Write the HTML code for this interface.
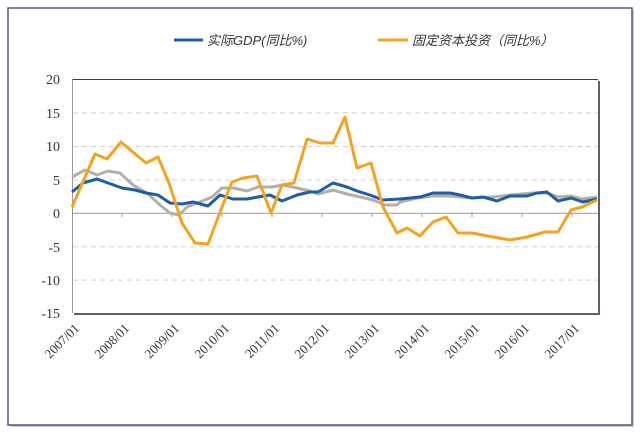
<!DOCTYPE html>
<html><head><meta charset="utf-8"><style>
body{margin:0;background:#fff;width:640px;height:432px;overflow:hidden}
</style></head><body>
<svg width="640" height="432" xmlns="http://www.w3.org/2000/svg">
<rect x="0" y="0" width="640" height="432" fill="#fff"/>
<rect x="10" y="10" width="624" height="417" fill="#c9ccd4"/>
<rect x="8" y="8" width="624" height="417" fill="#fff" stroke="#4d5a78" stroke-width="1.5"/>
<!-- legend -->
<line x1="174" y1="40" x2="203" y2="40" stroke="#1F5DA8" stroke-width="3"/>
<text x="207" y="45" font-family="Liberation Sans, Noto Sans CJK SC, sans-serif" font-size="13" font-style="italic" fill="#333">实际GDP(同比%)</text>
<line x1="378" y1="40" x2="408" y2="40" stroke="#F0A422" stroke-width="3"/>
<text x="412" y="45" font-family="Liberation Sans, Noto Sans CJK SC, sans-serif" font-size="13" font-style="italic" fill="#333">固定资本投资（同比%）</text>
<!-- plot -->
<rect x="74" y="81" width="526" height="234" fill="#5a6070"/>
<rect x="72" y="79" width="526" height="234" fill="#fff"/>
<line x1="72" y1="79.5" x2="598" y2="79.5" stroke="#2b3f7a" stroke-width="1"/>
<line x1="72.5" y1="79" x2="72.5" y2="313" stroke="#999" stroke-width="1"/>
<g stroke="#d0d0d0" stroke-dasharray="5,4" stroke-width="1">
<line x1="73" y1="112.9" x2="598" y2="112.9"/>
<line x1="73" y1="146.5" x2="598" y2="146.5"/>
<line x1="73" y1="179.9" x2="598" y2="179.9"/>
<line x1="73" y1="246.7" x2="598" y2="246.7"/>
<line x1="73" y1="280.1" x2="598" y2="280.1"/>
</g>
<line x1="72" y1="213.3" x2="598" y2="213.3" stroke="#999" stroke-width="1"/>
<g stroke="#999" stroke-width="1">
<line x1="122" y1="213" x2="122" y2="217"/><line x1="172" y1="213" x2="172" y2="217"/>
<line x1="222" y1="213" x2="222" y2="217"/><line x1="272" y1="213" x2="272" y2="217"/>
<line x1="322" y1="213" x2="322" y2="217"/><line x1="372" y1="213" x2="372" y2="217"/>
<line x1="422" y1="213" x2="422" y2="217"/><line x1="472" y1="213" x2="472" y2="217"/>
<line x1="522" y1="213" x2="522" y2="217"/><line x1="572" y1="213" x2="572" y2="217"/>
</g>
<g font-family="Liberation Serif, serif" font-size="14" fill="#333" text-anchor="end">
<text x="60" y="84">20</text><text x="60" y="118">15</text><text x="60" y="151">10</text>
<text x="60" y="185">5</text><text x="60" y="218">0</text><text x="60" y="252">-5</text>
<text x="60" y="285">-10</text><text x="60" y="318">-15</text>
</g>
<g font-family="Liberation Serif, serif" font-size="13" fill="#333" text-anchor="end">
<text transform="translate(80,329) rotate(-45)">2007/01</text>
<text transform="translate(130,329) rotate(-45)">2008/01</text>
<text transform="translate(180,329) rotate(-45)">2009/01</text>
<text transform="translate(230,329) rotate(-45)">2010/01</text>
<text transform="translate(280,329) rotate(-45)">2011/01</text>
<text transform="translate(330,329) rotate(-45)">2012/01</text>
<text transform="translate(380,329) rotate(-45)">2013/01</text>
<text transform="translate(430,329) rotate(-45)">2014/01</text>
<text transform="translate(480,329) rotate(-45)">2015/01</text>
<text transform="translate(530,329) rotate(-45)">2016/01</text>
<text transform="translate(580,329) rotate(-45)">2017/01</text>
</g>
<g fill="none" stroke-width="3" stroke-linejoin="round">
<polyline stroke="#b5aea9" points="72,177 85,170 97,175 108,171 120,173 133,185 147,193 160,205 170,213 179,215 187,207 200,202 212,197 222,188 233,188 247,191 258,187 272,187 283,185 297,188 310,191 318,194 333,190 347,194 360,197 373,200 385,205 397,205 400,202 417,198 433,196 450,196 472,198 493,197 510,195 533,193 547,193 558,197 571,196 582,199 597,197"/>
<polyline stroke="#1F5DA8" points="72,192 83,183 97,179 108,183 122,188 135,190 146,193 158,195 170,203 182,204 193,202 208,206 220,195 233,199 247,199 258,197 270,195 282,201 297,195 310,192 318,192 333,183 347,187 357,191 370,195 383,200 400,199 420,197 433,193 450,193 460,195 472,198 483,197 497,201 510,196 527,196 537,193 547,192 558,201 571,198 583,202 597,199"/>
<polyline stroke="#F0A422" points="72,207 95,154 107,159 121,142 146,163 158,157 169,183 182,223 195,243 208,244 222,207 232,182 243,178 257,176 271,213 282,185 294,183 307,139 320,143 333,143 345,117 357,168 371,163 383,207 397,233 407,228 420,236 433,222 446,217 458,233 472,233 493,237 510,240 527,237 545,232 558,232 571,210 582,207 597,200"/>
</g>
</svg>
</body></html>
